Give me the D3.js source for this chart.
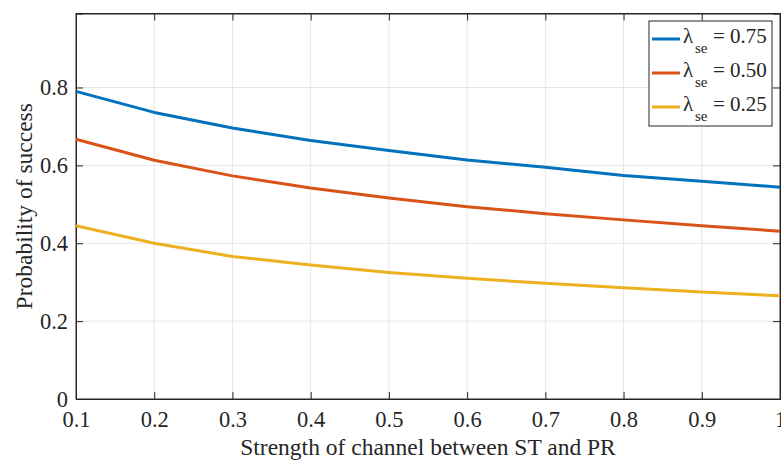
<!DOCTYPE html>
<html>
<head>
<meta charset="utf-8">
<script src="https://cdn.jsdelivr.net/npm/d3@7"></script>
<style>
  html, body { margin: 0; padding: 0; background: #fff; }
  svg { display: block; }
  text { font-family: "Liberation Serif"; fill: #262626; }
</style>
</head>
<body>
<svg id="chart" width="781" height="460"></svg>
<script>
const xValues = [0.1, 0.2, 0.3, 0.4, 0.5, 0.6, 0.7, 0.8, 0.9, 1.0];
const seriesNames = ["0.75", "0.50", "0.25"];
const series075 = [0.790, 0.736, 0.696, 0.664, 0.638, 0.614, 0.595, 0.574, 0.559, 0.544];
const series050 = [0.667, 0.613, 0.573, 0.542, 0.516, 0.494, 0.476, 0.460, 0.445, 0.431];
const series025 = [0.445, 0.400, 0.366, 0.344, 0.325, 0.310, 0.297, 0.286, 0.275, 0.265];
const seriesColors = ["#0072BD", "#D95319", "#EDB120"];
const xTicks = [0.1, 0.2, 0.3, 0.4, 0.5, 0.6, 0.7, 0.8, 0.9, 1];
const yTicks = [0, 0.2, 0.4, 0.6, 0.8];
const xLabel = "Strength of channel between ST and PR";
const yLabel = "Probability of success";

const allSeries = [series075, series050, series025];
const FONT = '"Liberation Serif"';

const svg = d3.select("#chart");
const margin = { left: 76, top: 13.5, right: 1, bottom: 61 };
const W = 781, H = 460;
const iw = W - margin.left - margin.right;
const ih = H - margin.top - margin.bottom;

const x = d3.scaleLinear().domain([0.1, 1]).range([0, iw]);
const y = d3.scaleLinear().domain([0, 0.99]).range([ih, 0]);

const g = svg.append("g").attr("transform", `translate(${margin.left},${margin.top})`);

// grid
g.append("g").selectAll("line").data(xTicks.slice(1, -1)).join("line")
  .attr("x1", d => x(d)).attr("x2", d => x(d)).attr("y1", 0).attr("y2", ih)
  .attr("stroke", "#e6e6e6").attr("stroke-width", 1);
g.append("g").selectAll("line").data(yTicks.slice(1)).join("line")
  .attr("y1", d => y(d)).attr("y2", d => y(d)).attr("x1", 0).attr("x2", iw)
  .attr("stroke", "#e6e6e6").attr("stroke-width", 1);

// axes
const fmt = d => String(d);
const xAxis = g.append("g").attr("transform", `translate(0,${ih})`)
  .call(d3.axisBottom(x).tickValues(xTicks).tickSize(-7).tickPadding(12).tickFormat(fmt));
const yAxis = g.append("g")
  .call(d3.axisLeft(y).tickValues(yTicks).tickSize(-7).tickPadding(8).tickFormat(fmt));
const xTop = g.append("g")
  .call(d3.axisTop(x).tickValues(xTicks).tickSize(-7).tickFormat(""));
const yRight = g.append("g").attr("transform", `translate(${iw},0)`)
  .call(d3.axisRight(y).tickValues(yTicks).tickSize(-7).tickFormat(""));
[xAxis, yAxis, xTop, yRight].forEach(a => {
  a.attr("font-family", FONT).attr("font-size", 22.5);
  a.select(".domain").attr("stroke", "#262626");
  a.selectAll(".tick line").attr("stroke", "#262626");
  a.selectAll("text").attr("fill", "#262626");
});
g.append("rect").attr("x", 0).attr("y", 0).attr("width", iw).attr("height", ih)
  .attr("fill", "none").attr("stroke", "#262626").attr("stroke-width", 1);

// lines
const line = d3.line().x((d, i) => x(xValues[i])).y(d => y(d));
g.append("g").selectAll("path").data(allSeries).join("path")
  .attr("d", d => line(d)).attr("fill", "none")
  .attr("stroke", (d, i) => seriesColors[i]).attr("stroke-width", 3)
  .attr("stroke-linejoin", "round");

// axis labels
svg.append("text").attr("x", margin.left + iw / 2).attr("y", 455)
  .attr("text-anchor", "middle").style("font-size", "23.5px").text(xLabel);
svg.append("text").attr("transform", `translate(32,${margin.top + ih / 2}) rotate(-90)`)
  .attr("text-anchor", "middle").style("font-size", "23.5px").text(yLabel);

// legend
const lg = svg.append("g").attr("transform", "translate(649,21)");
lg.append("rect").attr("x", 0).attr("y", 0).attr("width", 123).attr("height", 105)
  .attr("fill", "#fff").attr("stroke", "#262626").attr("stroke-width", 1);
seriesNames.forEach((name, i) => {
  const ly = 18 + i * 34;
  const row = lg.append("g").attr("transform", `translate(0,${ly})`);
  row.append("line").attr("x1", 3).attr("x2", 31).attr("y1", 0).attr("y2", 0)
    .attr("stroke", seriesColors[i]).attr("stroke-width", 3);
  row.append("text").attr("x", 34).attr("y", 4).style("font-size", "21px").text("λ");
  row.append("text").attr("x", 46).attr("y", 14).style("font-size", "15px").text("se");
  row.append("text").attr("x", 64).attr("y", 4).style("font-size", "21px").text("= " + name);
});
</script>
</body>
</html>
